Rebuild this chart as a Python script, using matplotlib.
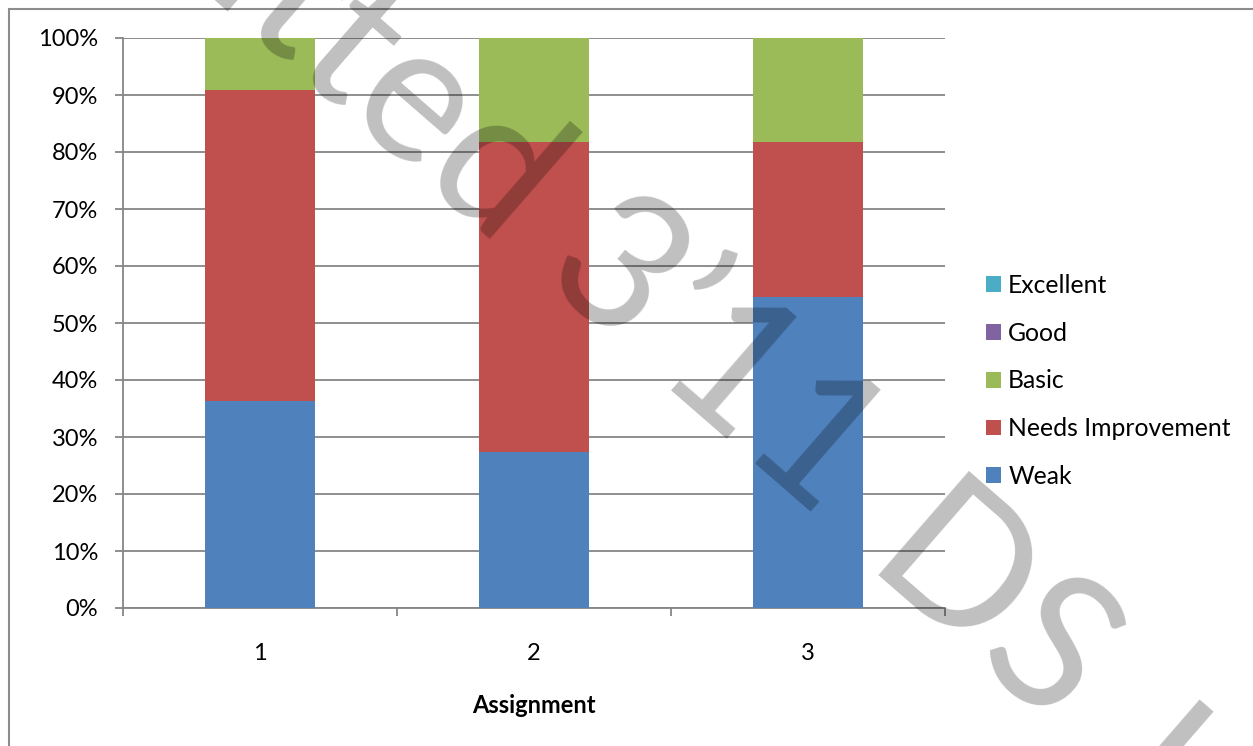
import numpy as np
import matplotlib
matplotlib.use('Agg')
import matplotlib.pyplot as plt
from matplotlib.patches import Rectangle

plt.rcParams['font.family'] = ['Lato', 'DejaVu Sans']

assignments = ['1', '2', '3']
levels = ['Weak', 'Needs Improvement', 'Basic', 'Good', 'Excellent']
weak = [36.4, 27.3, 54.5]
needs_improvement = [54.5, 54.5, 27.3]
basic = [9.1, 18.2, 18.2]
good = [0, 0, 0]
excellent = [0, 0, 0]
colors = ['#4F81BD', '#C0504D', '#9BBB59', '#8064A2', '#4BACC6']

W, H = 1253, 746
fig = plt.figure(figsize=(W / 100, H / 100), dpi=100)
ax = fig.add_axes([123 / W, 1 - 608 / H, (945 - 123) / W, (608 - 38) / H])

x = np.arange(1, len(assignments) + 1)
bottom = np.zeros(len(assignments))
handles = []
for vals, lab, col in zip([weak, needs_improvement, basic, good, excellent], levels, colors):
    b = ax.bar(x, vals, 0.4, bottom=bottom, color=col, label=lab, zorder=3, linewidth=0)
    handles.append(b)
    bottom += np.array(vals)

ax.set_xlim(0.5, 3.5)
ax.set_ylim(0, 100)
ax.set_yticks(np.arange(0, 101, 10))
ax.set_yticklabels([f'{v}%' for v in range(0, 101, 10)], fontsize=17)
ax.set_xticks(x)
ax.set_xticklabels(assignments, fontsize=17)
ax.set_xticks(np.arange(0.5, 3.6, 1), minor=True)
ax.tick_params(axis='x', which='major', length=0, pad=25)
ax.tick_params(axis='x', which='minor', length=6, width=1.3, color='#868686', direction='out')
ax.tick_params(axis='y', length=6, width=1.3, color='#868686', pad=12)
ax.grid(axis='y', color='#868686', linewidth=1.3, zorder=0)
for s in ['top', 'right']:
    ax.spines[s].set_visible(False)
for s in ['left', 'bottom']:
    ax.spines[s].set_color('#868686')
    ax.spines[s].set_linewidth(1.3)
ax.set_xlabel('Assignment', fontsize=17, fontweight='bold', labelpad=22)

leg = ax.legend(handles[::-1], levels[::-1], loc='upper left',
                bbox_to_anchor=(986 / W, 1 - 274 / H), bbox_transform=fig.transFigure,
                frameon=False, fontsize=17.8, handlelength=0.6, handleheight=0.6,
                handletextpad=0.3, labelspacing=1.0, borderpad=0, borderaxespad=0)

# outer frame
fig.patches.append(Rectangle((9 / W, -0.1), 1.2, 1.1 - 9 / H, transform=fig.transFigure,
                             fill=False, edgecolor='#8c8c8c', linewidth=1.5))

# watermark (multiply-like darkening)
wm = dict(fontsize=138, rotation=-41, rotation_mode='anchor', va='baseline',
          color='black', alpha=0.25, family=['Lato'], fontweight='normal', zorder=10)
fig.text(536 / W, 1 - 280 / H, 'Submitted ', ha='right', **wm)
fig.text(536 / W, 1 - 280 / H, '3\u201911', ha='left', **wm)
fig.text(860 / W, 1 - 574 / H, 'DS', ha='left', **wm)
fig.text(1090 / W, 1 - 803 / H, 'I', ha='left', **wm)

fig.savefig('out.png', dpi=100)
